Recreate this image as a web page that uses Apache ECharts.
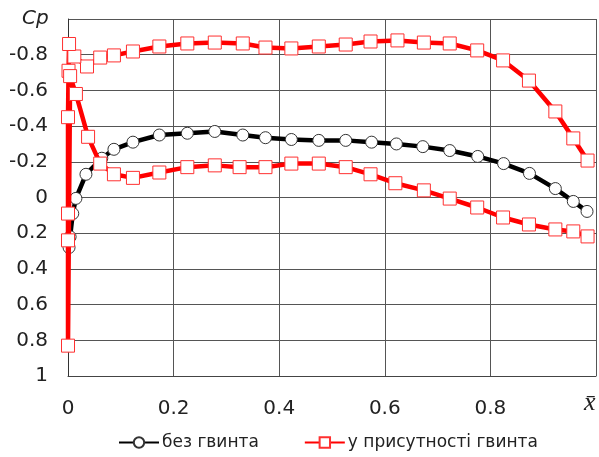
<!DOCTYPE html>
<html>
<head>
<meta charset="utf-8">
<script src="https://cdn.jsdelivr.net/npm/echarts@6/dist/echarts.min.js"></script>
<style>
  html, body { margin: 0; padding: 0; background: #fff; }
  #chart { width: 599px; height: 457px; }
</style>
</head>
<body>
<div id="chart"></div>
<script>
// точки [x, Cp]
const noPropeller = [
  [0.002, 0.28], [0.004, 0.22], [0.009, 0.09], [0.015, 0.005], [0.034, -0.13],
  [0.064, -0.22], [0.087, -0.27], [0.123, -0.31], [0.173, -0.35], [0.226, -0.36],
  [0.278, -0.37], [0.331, -0.35], [0.374, -0.335], [0.423, -0.325], [0.475, -0.32],
  [0.526, -0.32], [0.575, -0.31], [0.622, -0.30], [0.672, -0.285], [0.723, -0.263],
  [0.776, -0.23], [0.825, -0.19], [0.874, -0.135], [0.923, -0.05], [0.957, 0.022],
  [0.983, 0.078]
];
// верхня поверхня від задньої кромки до носка
const withPropellerUpper = [
  [0.984, -0.207], [0.957, -0.331], [0.923, -0.482], [0.873, -0.655], [0.824, -0.768],
  [0.775, -0.824], [0.723, -0.863], [0.674, -0.868], [0.624, -0.880], [0.573, -0.874],
  [0.526, -0.857], [0.475, -0.846], [0.423, -0.835], [0.374, -0.840], [0.331, -0.863],
  [0.278, -0.868], [0.226, -0.863], [0.173, -0.846], [0.123, -0.818], [0.087, -0.796],
  [0.061, -0.784], [0.036, -0.734], [0.012, -0.79], [0.002, -0.86]
];
// носок
const withPropellerNose = [
  [0.001, -0.71], [0.0, -0.45], [0.0, 0.09], [0.0, 0.24], [0.0, 0.83]
];
// нижня поверхня від носка до задньої кромки
const withPropellerLower = [
  [0.004, -0.68], [0.015, -0.58], [0.038, -0.34], [0.061, -0.19], [0.087, -0.13],
  [0.123, -0.11], [0.173, -0.14], [0.226, -0.17], [0.278, -0.18], [0.325, -0.17],
  [0.374, -0.17], [0.423, -0.19], [0.475, -0.19], [0.526, -0.17], [0.573, -0.13],
  [0.620, -0.08], [0.674, -0.04], [0.723, 0.006], [0.775, 0.056], [0.824, 0.112],
  [0.873, 0.151], [0.923, 0.179], [0.957, 0.19], [0.984, 0.218]
];
const seriesNames = ['без гвинта', 'у присутності гвинта'];

const fmt = v => (v === 0 ? '0' : Math.abs(v) === 1 ? String(v) : v.toFixed(1));
const font = 'DejaVu Sans, Arial, sans-serif';

const chart = echarts.init(document.getElementById('chart'));
chart.setOption({
  animation: false,
  backgroundColor: '#fff',
  textStyle: { fontFamily: font },
  grid: { left: 68, top: 19, width: 533, height: 357 },
  xAxis: {
    type: 'value',
    min: 0, max: 1, interval: 0.2,
    axisLine: { onZero: false, lineStyle: { color: '#444', width: 1 } },
    axisTick: { show: false },
    splitLine: { lineStyle: { color: '#555', width: 1 } },
    axisLabel: {
      color: '#222', fontSize: 20, margin: 23,
      formatter: v => (v >= 1 ? '' : fmt(v))
    }
  },
  yAxis: {
    type: 'value',
    inverse: true,
    min: -1, max: 1, interval: 0.2,
    axisLine: { show: true, onZero: false, lineStyle: { color: '#333', width: 1 } },
    axisTick: { show: false },
    splitLine: { lineStyle: { color: '#555', width: 1 } },
    axisLabel: {
      color: '#222', fontSize: 20, margin: 20,
      formatter: v => (v <= -1 ? '' : fmt(Math.round(v * 10) / 10))
    }
  },
  legend: {
    left: 113, top: 429,
    itemWidth: 40, itemHeight: 13, itemGap: 45,
    textStyle: { color: '#222', fontSize: 17, padding: [0, 0, 0, -2] },
    data: seriesNames
  },
  graphic: [
    { type: 'text', left: 22, top: 9,
      style: { text: 'Cp', fontSize: 20, fontStyle: 'italic', fill: '#222', fontFamily: font } },
    { type: 'text', left: 584, top: 390,
      style: { text: 'x\u0304', fontSize: 26, fontStyle: 'italic', fill: '#222',
               fontFamily: 'Liberation Serif, Times New Roman, serif' } }
  ],
  series: [
    {
      name: seriesNames[0],
      type: 'line',
      data: noPropeller,
      symbol: 'circle',
      symbolSize: 12,
      itemStyle: { color: '#fff', borderColor: '#333', borderWidth: 1 },
      lineStyle: { color: '#000', width: 4.5 },
      z: 2
    },
    {
      name: seriesNames[1],
      type: 'line',
      data: withPropellerUpper.concat(withPropellerNose, withPropellerLower),
      symbol: 'rect',
      symbolSize: 13,
      itemStyle: { color: '#fff', borderColor: '#ff3030', borderWidth: 1 },
      lineStyle: { color: '#ff0000', width: 4.5 },
      z: 3
    }
  ]
});
</script>
</body>
</html>
